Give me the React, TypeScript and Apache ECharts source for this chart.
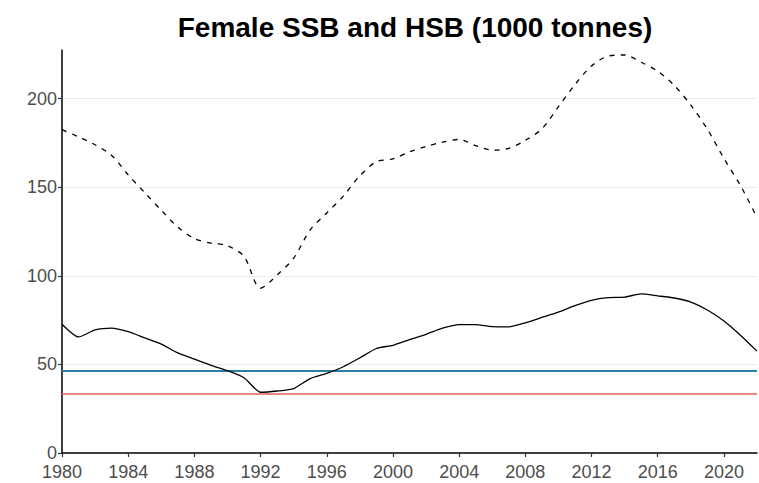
import React, { useEffect, useRef } from "react";
import * as echarts from "echarts";

const years = [
  1980, 1981, 1982, 1983, 1984, 1985, 1986, 1987, 1988, 1989,
  1990, 1991, 1992, 1993, 1994, 1995, 1996, 1997, 1998, 1999,
  2000, 2001, 2002, 2003, 2004, 2005, 2006, 2007, 2008, 2009,
  2010, 2011, 2012, 2013, 2014, 2015, 2016, 2017, 2018, 2019,
  2020, 2021, 2022,
];

// Female SSB (solid)
const ssb = [
  72.7, 65.5, 69.5, 70.5, 68.5, 65.0, 61.5, 56.5, 53.0, 49.5,
  46.5, 42.5, 34.3, 35.0, 36.4, 42.0, 45.0, 48.7, 53.7, 59.0,
  60.8, 64.0, 67.0, 70.5, 72.5, 72.5, 71.3, 71.2, 73.5, 76.5,
  79.5, 83.2, 86.2, 87.7, 88.0, 89.8, 88.7, 87.5, 85.2, 80.7,
  74.5, 66.5, 57.5,
];

// Female HSB (dashed)
const hsb = [
  182.5, 178.5, 174.0, 168.0, 157.0, 147.0, 137.0, 127.5, 121.0, 118.5,
  117.0, 111.0, 93.0, 100.5, 110.0, 126.0, 135.5, 145.0, 156.5, 164.5,
  166.0, 170.0, 173.0, 175.5, 177.0, 173.5, 171.0, 172.0, 176.5, 183.0,
  195.5, 208.0, 218.5, 224.0, 224.7, 220.6, 215.5, 207.5, 196.4, 182.8,
  166.3, 151.0, 133.0,
];

const refBpa = 46.2; // blue reference line
const refBlim = 33.6; // red reference line

const titleText = "Female SSB and HSB (1000 tonnes)";
const xTickInterval = 4;
const yTickInterval = 50;

const FONT = "'Liberation Sans', Arial, Helvetica, sans-serif";

export default function App() {
  const ref = useRef<HTMLDivElement>(null);

  useEffect(() => {
    if (!ref.current) return;
    const chart = echarts.init(ref.current, null, { renderer: "svg" });
    const ssbData = years.map((y, i) => [y, ssb[i]]);
    const hsbData = years.map((y, i) => [y, hsb[i]]);

    chart.setOption({
      animation: false,
      backgroundColor: "#ffffff",
      title: {
        text: titleText,
        left: 410,
        top: 8,
        textAlign: "center",
        textStyle: {
          fontFamily: FONT,
          fontSize: 28,
          fontWeight: "bold",
          color: "#000000",
        },
      },
      grid: {
        left: 62,
        right: 2,
        top: 50,
        bottom: 30,
        containLabel: false,
      },
      xAxis: {
        type: "value",
        min: 1980,
        max: 2022,
        interval: xTickInterval,
        axisLine: { show: true, onZero: false, lineStyle: { color: "#000000", width: 1.5 } },
        axisTick: { show: true, length: 4, lineStyle: { color: "#333333", width: 1.2 } },
        axisLabel: {
          showMaxLabel: false,
          margin: 10,
          fontFamily: FONT,
          fontSize: 18,
          color: "#4d4d4d",
          formatter: (v: number) => String(v),
        },
        splitLine: { show: false },
      },
      yAxis: {
        type: "value",
        min: 0,
        max: 227.5,
        interval: yTickInterval,
        axisLine: { show: true, lineStyle: { color: "#000000", width: 1.5 } },
        axisTick: { show: true, length: 4, lineStyle: { color: "#333333", width: 1.2 } },
        axisLabel: {
          showMaxLabel: false,
          margin: 5,
          fontFamily: FONT,
          fontSize: 18,
          color: "#4d4d4d",
        },
        splitLine: {
          show: true,
          showMinLine: false,
          showMaxLine: false,
          lineStyle: { color: "#ebebeb", width: 1.2 },
        },
      },
      series: [
        {
          name: "HSB",
          type: "line",
          data: hsbData,
          showSymbol: false,
          symbol: "none",
          smooth: 0.3,
          lineStyle: { color: "#000000", width: 1.3, type: [5, 6] },
          z: 5,
        },
        {
          name: "SSB",
          type: "line",
          data: ssbData,
          showSymbol: false,
          symbol: "none",
          smooth: 0.2,
          lineStyle: { color: "#000000", width: 1.3 },
          z: 5,
          markLine: {
            silent: true,
            symbol: "none",
            label: { show: false },
            data: [
              { yAxis: refBpa, lineStyle: { color: "#2a7fa8", width: 2, type: "solid" } },
              { yAxis: refBlim, lineStyle: { color: "#e06060", width: 1.6, type: "solid" } },
            ],
            z: 3,
          },
        },
      ],
    });

    return () => chart.dispose();
  }, []);

  return (
    <div
      ref={ref}
      style={{ position: "absolute", left: 0, top: 0, width: 759, height: 483 }}
    />
  );
}
